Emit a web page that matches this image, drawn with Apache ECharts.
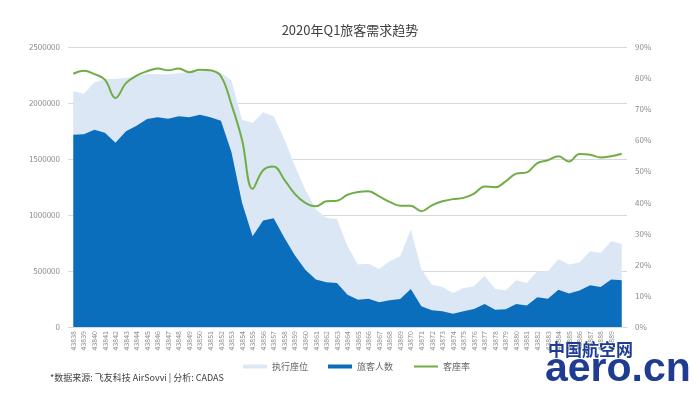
<!DOCTYPE html>
<html>
<head>
<meta charset="utf-8">
<script src="https://cdn.jsdelivr.net/npm/echarts@6/dist/echarts.min.js"></script>
<style>html,body{margin:0;padding:0;background:#fff;}#c{width:700px;height:393px;}</style>
</head>
<body>
<div id="c"></div>
<script>
const categories = ['43838','43839','43840','43841','43842','43843','43844','43845','43846','43847','43848','43849','43850','43851','43852','43853','43854','43855','43856','43857','43858','43859','43860','43861','43862','43863','43864','43865','43866','43867','43868','43869','43870','43871','43872','43873','43874','43875','43876','43877','43878','43879','43880','43881','43882','43883','43884','43885','43886','43887','43888','43889','43890'];
const seats = [2104000,2083000,2184000,2214000,2214000,2223000,2238000,2262000,2256000,2256000,2268000,2274000,2283000,2292000,2270000,2200000,1850000,1821000,1917000,1881000,1680000,1440000,1226000,1048000,973000,964000,720000,557000,565000,518000,586000,631000,869000,518000,378000,357000,304000,348000,363000,458000,339000,327000,417000,393000,497000,497000,607000,557000,577000,676000,661000,765000,744000];
const passengers = [1717000,1722000,1762000,1735000,1645000,1747000,1797000,1857000,1872000,1860000,1881000,1872000,1896000,1872000,1842000,1560000,1110000,810000,950000,970000,800000,640000,512000,423000,400000,393000,289000,244000,252000,220000,238000,250000,339000,185000,149000,140000,119000,140000,161000,205000,155000,158000,205000,193000,265000,253000,333000,298000,327000,372000,357000,423000,417000];
const loadFactor = [81.4,82.4,81.3,79.5,73.6,78.4,80.8,82.2,83.1,82.5,83.1,81.9,82.7,82.5,80.6,71.5,60.2,44.4,50.4,51.6,47.4,42.8,39.9,38.8,40.4,40.6,42.5,43.4,43.6,42.0,40.2,39.0,39.0,37.2,39.1,40.4,41.1,41.5,42.9,45.2,44.9,46.8,49.3,49.7,52.7,53.6,54.9,53.2,55.6,55.4,54.5,54.9,55.7];
const leftTicks = {min: 0, max: 2500000, interval: 500000};
const rightTicks = {min: 0, max: 90, interval: 10};
const seriesNames = ['执行座位', '旅客人数', '客座率'];

const font = '"Noto Sans CJK SC", "Noto Sans", sans-serif';
const chart = echarts.init(document.getElementById('c'));
chart.setOption({
  animation: false,
  textStyle: {fontFamily: font},
  title: {
    text: '2020年Q1旅客需求趋势',
    left: 'center', top: 19,
    textStyle: {fontSize: 13, fontWeight: 'normal', color: '#404040', fontFamily: font}
  },
  legend: {
    data: [
      {name: seriesNames[0], icon: 'rect'},
      {name: seriesNames[1], icon: 'rect'},
      {name: seriesNames[2], itemStyle: {opacity: 0}}
    ],
    left: 238, top: 357,
    itemWidth: 24, itemHeight: 4, itemGap: 20,
    textStyle: {fontSize: 9, color: '#666', fontFamily: font}
  },
  grid: {left: 68, right: 73, top: 47, bottom: 66},
  xAxis: {
    type: 'category',
    data: categories,
    boundaryGap: true,
    axisLine: {show: true, lineStyle: {color: '#d9d9d9'}},
    axisTick: {show: false},
    axisLabel: {
      rotate: 90, fontSize: 7, color: '#8c8c8c', margin: 4,
      interval: function (idx) { return idx < categories.length - 1; }
    }
  },
  yAxis: [
    {
      type: 'value', min: leftTicks.min, max: leftTicks.max, interval: leftTicks.interval,
      axisLine: {show: false}, axisTick: {show: false},
      axisLabel: {fontSize: 8, color: '#8c8c8c', margin: 8, formatter: function (v) { return String(v); }},
      splitLine: {lineStyle: {color: '#d9d9d9', width: 1}}
    },
    {
      type: 'value', min: rightTicks.min, max: rightTicks.max, interval: rightTicks.interval,
      position: 'right',
      axisLine: {show: false}, axisTick: {show: false},
      axisLabel: {fontSize: 8, color: '#8c8c8c', margin: 8, formatter: '{value}%'},
      splitLine: {show: false}
    }
  ],
  series: [
    {
      name: seriesNames[0], type: 'line', data: seats, yAxisIndex: 0,
      showSymbol: false, symbol: 'none',
      lineStyle: {width: 0},
      itemStyle: {color: '#dbe7f4'},
      areaStyle: {color: '#dbe7f4', opacity: 1},
      z: 1
    },
    {
      name: seriesNames[1], type: 'line', data: passengers, yAxisIndex: 0,
      showSymbol: false, symbol: 'none',
      lineStyle: {width: 0},
      itemStyle: {color: '#0a6ebd'},
      areaStyle: {color: '#0a6ebd', opacity: 1},
      z: 2
    },
    {
      name: seriesNames[2], type: 'line', data: loadFactor, yAxisIndex: 1,
      showSymbol: false, symbol: 'none', smooth: 0.4,
      lineStyle: {width: 2, color: '#70ad47'},
      itemStyle: {color: '#70ad47'},
      z: 3
    }
  ],
  graphic: [
    {
      type: 'text', left: 50, top: 373, z: 10,
      style: {text: '*数据来源: 飞友科技 AirSovvi | 分析: CADAS', fontSize: 9, fill: '#404040', fontFamily: font}
    },
    {
      type: 'text', left: 548, top: 341, z: 20,
      style: {text: '中国航空网', fontSize: 17, fontWeight: 'bold', fill: '#1f3c92', fontFamily: font}
    },
    {
      type: 'text', left: 545, top: 349, z: 20,
      style: {text: 'aero.cn', fontSize: 41, fontWeight: 'bold', fill: '#1f3c92', fontFamily: '"Liberation Sans", sans-serif'}
    }
  ]
});
</script>
</body>
</html>
